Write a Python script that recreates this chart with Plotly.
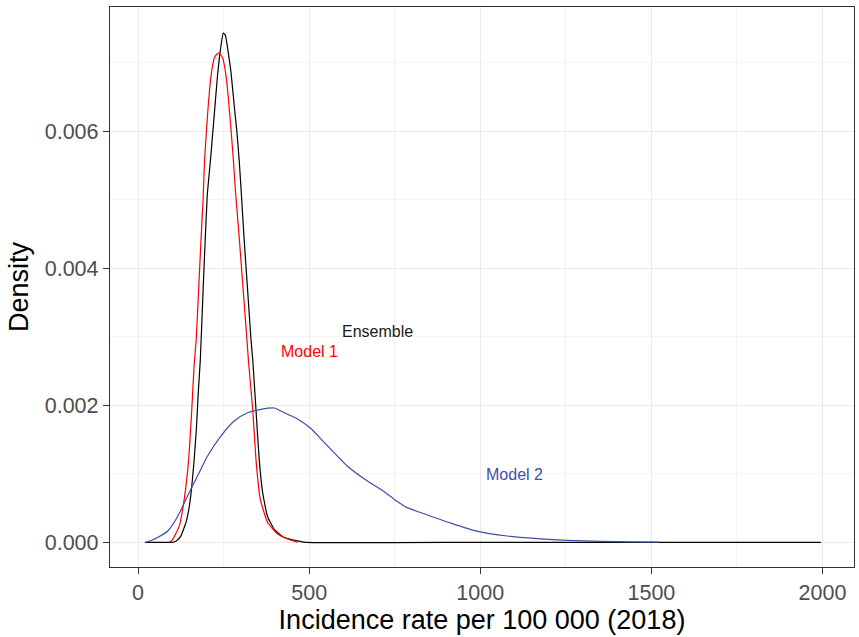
import plotly.graph_objects as go

# Ensemble density (black)
ens_x = [20, 60, 100, 112, 125, 140, 150, 157, 164, 171, 176, 182, 191, 202, 212, 222, 232, 241, 249,
         255, 262, 271.5, 281, 289, 296, 301, 310, 320, 330, 335, 344.5, 354, 364, 378, 398, 427, 466, 490,
         1000, 1500, 1995]
ens_y = [0, 0, 0, 0.00002, 0.00009, 0.00029, 0.00053, 0.00082, 0.00121, 0.0017, 0.00219, 0.00267, 0.0038,
         0.00505, 0.0056, 0.0062, 0.0068, 0.0072, 0.00743,
         0.0074, 0.0072, 0.00686, 0.00637, 0.00598, 0.00554, 0.00515, 0.00442, 0.00369, 0.00296, 0.00267,
         0.00194, 0.00121, 0.00073, 0.00038, 0.00019, 0.00007, 0.00002, 0,
         0, 0, 0]

# Model 1 density (red)
m1_x = [91, 101, 120.6, 135, 148, 157, 164, 170, 177, 184, 190, 194, 199.5, 205, 211, 216, 223, 230, 237,
        247, 257, 264, 271.5, 279, 285, 296, 307, 318, 323, 335, 344.5, 357, 378.5, 408, 447, 466]
m1_y = [0, 0.00004, 0.00024, 0.00063, 0.00121, 0.00194, 0.0026, 0.00296, 0.00369, 0.00442, 0.005, 0.00554,
        0.00598, 0.00637, 0.00671, 0.0069, 0.00707, 0.00712, 0.00714,
        0.00707, 0.00681, 0.00647, 0.00603, 0.00554, 0.0051, 0.00442, 0.00369, 0.00296, 0.00262, 0.00194,
        0.00121, 0.00063, 0.00029, 0.00012, 0.00003, 0]

# Model 2 density (blue)
m2_x = [23, 40, 57, 87, 116, 145, 174, 203, 242, 281, 320, 359, 398, 427, 466, 505, 534, 563, 612, 671,
        710, 748, 785, 840, 914, 992, 1079, 1167, 1255, 1352, 1440, 1522]
m2_y = [0, 0.00003, 0.00007, 0.000165, 0.00038, 0.00068, 0.00097, 0.00126, 0.00155, 0.00177, 0.00189,
        0.00194, 0.00196, 0.00189, 0.0018, 0.00166, 0.00151, 0.00136, 0.00111, 0.00089,
        0.00077, 0.00063, 0.00051, 0.00041, 0.00028, 0.00016, 0.000092, 0.000054, 0.000029,
        0.000015, 0.000007, 0.000003]

labels = ["Ensemble", "Model 1", "Model 2"]
label_x = [700, 500, 1100]
label_y = [0.00308, 0.00278, 0.00099]
label_colors = ["#1a1a1a", "#ff0000", "#3f4dab"]

FONT = "Liberation Sans, Arial, sans-serif"

fig = go.Figure()
fig.add_trace(go.Scatter(x=ens_x, y=ens_y, mode="lines",
                         line=dict(color="black", width=1.2, shape="spline", smoothing=0.4),
                         showlegend=False, hoverinfo="skip"))
fig.add_trace(go.Scatter(x=m1_x, y=m1_y, mode="lines",
                         line=dict(color="#ff0000", width=1.2, shape="spline", smoothing=0.4),
                         showlegend=False, hoverinfo="skip"))
fig.add_trace(go.Scatter(x=m2_x, y=m2_y, mode="lines",
                         line=dict(color="#3f4dab", width=1.2, shape="spline", smoothing=0.6),
                         showlegend=False, hoverinfo="skip"))

for t, x, y, c in zip(labels, label_x, label_y, label_colors):
    fig.add_annotation(x=x, y=y, text=t, showarrow=False, font=dict(family=FONT, size=16, color=c),
                       xanchor="center", yanchor="middle")

axis_common = dict(
    showline=True, mirror=True, linecolor="#333333", linewidth=1.3,
    ticks="outside", ticklen=6, tickwidth=1.3, tickcolor="#333333",
    showgrid=True, gridcolor="#ebebeb", gridwidth=1.3, zeroline=False,
    tickfont=dict(family=FONT, size=21.5, color="#4d4d4d"),
)

fig.update_layout(
    width=859, height=637,
    margin=dict(l=110, r=5, t=7, b=70),
    plot_bgcolor="white", paper_bgcolor="white",
    font=dict(family=FONT),
    xaxis=dict(range=[-82, 2092], dtick=500, tick0=0,
               minor=dict(dtick=250, tick0=0, showgrid=True, gridcolor="#f3f3f3", gridwidth=0.8),
               title=dict(text="Incidence rate per 100 000 (2018)", font=dict(family=FONT, size=27, color="black"),
                          standoff=4),
               **axis_common),
    yaxis=dict(range=[-0.00036, 0.00781], dtick=0.002, tick0=0, tickformat=".3f",
               minor=dict(dtick=0.001, tick0=0, showgrid=True, gridcolor="#f3f3f3", gridwidth=0.8),
               title=dict(text="Density", font=dict(family=FONT, size=27, color="black"), standoff=8),
               **axis_common),
)

fig.write_html("out.html", config={"displayModeBar": False},
               post_script="document.body.style.margin='0';document.body.style.overflow='hidden';")
